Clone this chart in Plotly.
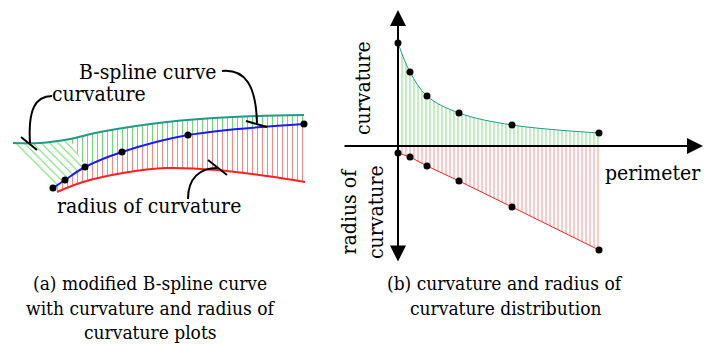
import plotly.graph_objects as go

# ---------------- Panel (a): B-spline curve with curvature / radius plots (drawing units) -------------
spline_x = [53, 65, 85, 122, 188, 304]
spline_y = [188, 180, 167, 152, 135, 124]
curv_a_x = [13, 40, 70, 100, 167, 233, 304]
curv_a_y = [143, 143, 139, 132, 122, 117, 115]
rad_a_x = [57, 83, 123, 167, 217, 267, 305]
rad_a_y = [192, 182, 173, 168, 170, 176, 182]

# ---------------- Panel (b): curvature and radius of curvature distribution ---------------------------
perimeter = [0, 12, 29, 61, 114, 201]
curvature = [103, 74, 50, 33, 21, 13]
radius = [-7, -11, -20, -35, -61, -104]

TEAL = "#1f9a86"
LGREEN = "#6ade6a"
RED = "#ff2020"
LRED = "#ff8484"
BLUE = "#1a1aff"
FONT = "DejaVu Serif Condensed"

fig = go.Figure()
A = dict(xaxis="x", yaxis="y", showlegend=False, hoverinfo="skip")
B = dict(xaxis="x2", yaxis="y2", showlegend=False, hoverinfo="skip")

def pat(shape, color, size, sol):
    return dict(shape=shape, fgcolor=color, fgopacity=1, bgcolor="rgba(0,0,0,0)", size=size, solidity=sol,
                fillmode="replace")

# red hatched area (between B-spline and radius curve)
fig.add_trace(go.Scatter(x=spline_x, y=spline_y, mode="lines", line=dict(width=0, shape="spline"), **A))
fig.add_trace(go.Scatter(x=rad_a_x, y=rad_a_y, mode="lines", line=dict(width=0, shape="spline"),
                         fill="tonexty", fillcolor=LRED, fillpattern=pat("|", LRED, 5, 0.2), **A))
# green hatched area (between B-spline and curvature curve), right part
fig.add_trace(go.Scatter(x=spline_x[2:], y=spline_y[2:], mode="lines", line=dict(width=0, shape="spline"), **A))
fig.add_trace(go.Scatter(x=curv_a_x[2:], y=curv_a_y[2:], mode="lines", line=dict(width=0, shape="spline"),
                         fill="tonexty", fillcolor=LGREEN, fillpattern=pat("|", LGREEN, 5, 0.2), **A))
# green hatched area, left slanted part
fig.add_trace(go.Scatter(x=curv_a_x[:3] + spline_x[2::-1], y=curv_a_y[:3] + spline_y[2::-1], mode="lines",
                         line=dict(width=0), fill="toself", fillcolor=LGREEN,
                         fillpattern=pat("\\", LGREEN, 6, 0.18), **A))
# visible curves
fig.add_trace(go.Scatter(x=curv_a_x, y=curv_a_y, mode="lines", line=dict(color=TEAL, width=2, shape="spline"), **A))
fig.add_trace(go.Scatter(x=rad_a_x, y=rad_a_y, mode="lines", line=dict(color=RED, width=2, shape="spline"), **A))
fig.add_trace(go.Scatter(x=spline_x, y=spline_y, mode="lines", line=dict(color=BLUE, width=2, shape="spline"), **A))
fig.add_trace(go.Scatter(x=spline_x, y=spline_y, mode="markers", marker=dict(color="black", size=7), **A))

# panel (b)
fig.add_trace(go.Scatter(x=perimeter, y=curvature, mode="lines", line=dict(color=TEAL, width=1, shape="spline"),
                         fill="tozeroy", fillcolor=LGREEN, fillpattern=pat("|", LGREEN, 4, 0.22), **B))
fig.add_trace(go.Scatter(x=perimeter, y=radius, mode="lines", line=dict(color=RED, width=1),
                         fill="tozeroy", fillcolor=LRED, fillpattern=pat("|", LRED, 4, 0.22), **B))
fig.add_trace(go.Scatter(x=perimeter, y=curvature, mode="markers", marker=dict(color="black", size=7), **B))
fig.add_trace(go.Scatter(x=perimeter, y=radius, mode="markers", marker=dict(color="black", size=7), **B))

# leader lines + ticks in panel (a)
shapes = [
    dict(type="path", path="M 222,71 C 245,69 256,85 257,123", xref="x", yref="y", line=dict(color="black", width=2)),
    dict(type="line", x0=246, y0=121, x1=267, y1=127, xref="x", yref="y", line=dict(color="black", width=2)),
    dict(type="path", path="M 52,96 C 35,96 28,110 30,143", xref="x", yref="y", line=dict(color="black", width=2)),
    dict(type="line", x0=21, y0=137, x1=37, y1=150, xref="x", yref="y", line=dict(color="black", width=2)),
    dict(type="path", path="M 188,199 C 188,178 200,168 217,168", xref="x", yref="y", line=dict(color="black", width=2)),
    dict(type="line", x0=208, y0=160, x1=227, y1=175, xref="x", yref="y", line=dict(color="black", width=2)),
]

lab = dict(family=FONT, size=21, color="black")
cap = dict(family=FONT, size=19, color="black")
annotations = [
    dict(text="B-spline curve", x=148, y=72, xref="x", yref="y", showarrow=False, font=lab),
    dict(text="curvature", x=99, y=94, xref="x", yref="y", showarrow=False, font=lab),
    dict(text="radius of curvature", x=149, y=206, xref="x", yref="y", showarrow=False, font=lab),
    dict(text="curvature", x=363, y=88, xref="x", yref="y", showarrow=False, font=lab, textangle=-90),
    dict(text="radius of<br>curvature", x=362, y=212, xref="x", yref="y", showarrow=False, font=lab, textangle=-90),
    dict(text="perimeter", x=653, y=173, xref="x", yref="y", showarrow=False, font=lab),
    dict(text="(a) modified B-spline curve", x=150, y=283, xref="x", yref="y", showarrow=False, font=cap),
    dict(text="with curvature and radius of", x=150, y=308, xref="x", yref="y", showarrow=False, font=cap),
    dict(text="curvature plots", x=150, y=332, xref="x", yref="y", showarrow=False, font=cap),
    dict(text="(b) curvature and radius of", x=505, y=283, xref="x", yref="y", showarrow=False, font=cap),
    dict(text="curvature distribution", x=505, y=308, xref="x", yref="y", showarrow=False, font=cap),
    # axes arrows of panel (b)
    dict(text="", x=305, y=0, ax=-55, ay=0, xref="x2", yref="y2", axref="x2", ayref="y2",
         showarrow=True, arrowhead=2, arrowsize=1.6, arrowwidth=2, arrowcolor="black"),
    dict(text="", x=0, y=136, ax=0, ay=-117, xref="x2", yref="y2", axref="x2", ayref="y2",
         showarrow=True, arrowhead=2, startarrowhead=2, arrowside="end+start", arrowsize=1.6, startarrowsize=1.6,
         arrowwidth=2, arrowcolor="black"),
]

fig.update_layout(
    width=715, height=347, margin=dict(l=0, r=0, t=0, b=0),
    paper_bgcolor="white", plot_bgcolor="white",
    font=dict(family=FONT, color="black"),
    xaxis=dict(range=[0, 715], domain=[0, 1], visible=False, fixedrange=True),
    yaxis=dict(range=[347, 0], domain=[0, 1], visible=False, fixedrange=True),
    xaxis2=dict(range=[-398, 317], domain=[0, 1], visible=False, overlaying="x", fixedrange=True),
    yaxis2=dict(range=[-201, 146], domain=[0, 1], visible=False, overlaying="y", fixedrange=True),
    shapes=shapes, annotations=annotations,
)

fig.write_html("out.html")
